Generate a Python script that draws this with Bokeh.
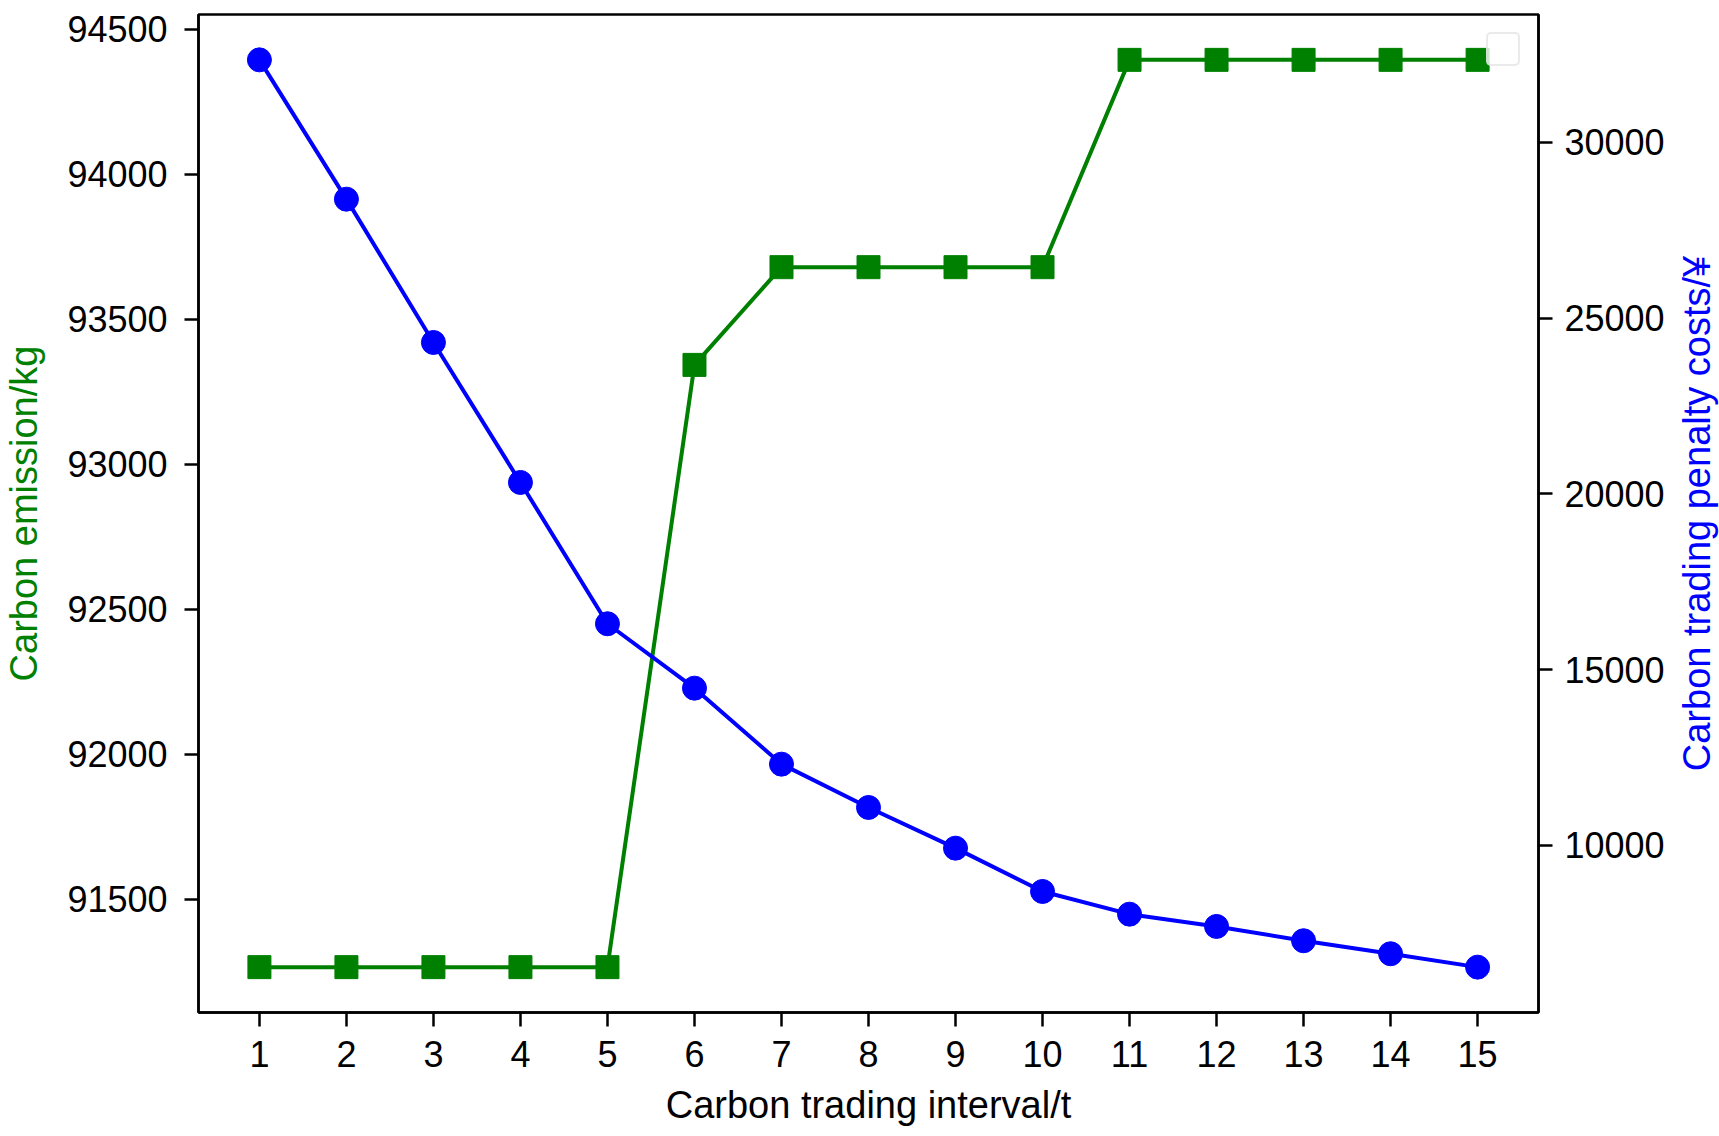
import math
import numpy as np
from bokeh.plotting import figure
from bokeh.layouts import row
from bokeh.core.properties import value
from bokeh.models import (LinearAxis, Range1d, FixedTicker, Legend, LegendItem,
                          NumeralTickFormatter)
from bokeh.embed import file_html
from bokeh.resources import INLINE

# ---- data ----
intervals = list(range(1, 16))
emission = [91266, 91266, 91266, 91266, 91266, 93343, 93680, 93680, 93680, 93680,
            94395, 94395, 94395, 94395, 94395]
penalty = [32350, 28387, 24310, 20327, 16307, 14475, 12313, 11081, 9923, 8691,
           8045, 7696, 7289, 6919, 6538]
x_ticks = list(range(1, 16))
left_ticks = [91500, 92000, 92500, 93000, 93500, 94000, 94500]
right_ticks = [10000, 15000, 20000, 25000, 30000]

x_label = "Carbon trading interval/t"
left_label = "Carbon emission/kg"
right_label = "Carbon trading penalty costs/\u00a5"

GREEN = "#008000"
BLUE = "#0000ff"
FONT = "Liberation Sans"
TICK_FS = "36px"
LAB_FS = "38px"

W, H = 1719, 1136
SIDE_W = 43                      # strip holding the right-hand axis title
MAIN_W = W - SIDE_W
B_LEFT, B_TOP, B_RIGHT, B_BOTTOM = 198, 14, MAIN_W - 1538, 124


def padded(vals, frac=0.05):
    lo, hi = float(np.min(vals)), float(np.max(vals))
    r = hi - lo
    return lo - frac * r, hi + frac * r


xl, xh = padded(intervals)
ll, lh = padded(emission)
rl, rh = padded(penalty)

p = figure(width=MAIN_W, height=H, output_backend="svg", toolbar_location=None,
           x_range=Range1d(xl, xh), y_range=Range1d(ll, lh),
           min_border_left=B_LEFT, min_border_top=B_TOP,
           min_border_right=B_RIGHT, min_border_bottom=B_BOTTOM,
           background_fill_color="white", border_fill_color="white")
p.extra_y_ranges = {"pen": Range1d(rl, rh)}

p.xgrid.visible = False
p.ygrid.visible = False
p.outline_line_color = "black"
p.outline_line_width = 2.5
p.outline_line_alpha = 1.0


def style_axis(ax):
    ax.axis_line_width = 2.5
    ax.axis_line_color = "black"
    ax.major_tick_line_width = 2.5
    ax.major_tick_line_color = "black"
    ax.major_tick_out = 14
    ax.major_tick_in = 0
    ax.minor_tick_line_color = None
    ax.major_label_text_font = FONT
    ax.major_label_text_font_size = TICK_FS
    ax.major_label_text_color = "black"
    ax.axis_label_text_font = FONT
    ax.axis_label_text_font_size = LAB_FS
    ax.axis_label_text_font_style = "normal"


xa = p.xaxis[0]
style_axis(xa)
xa.ticker = FixedTicker(ticks=x_ticks)
xa.major_label_standoff = 14
xa.axis_label = x_label
xa.axis_label_text_color = "black"
xa.axis_label_standoff = 14

ya = p.yaxis[0]
style_axis(ya)
ya.ticker = FixedTicker(ticks=left_ticks)
ya.formatter = NumeralTickFormatter(format="0")
ya.major_label_standoff = 17
ya.axis_label = left_label
ya.axis_label_text_color = GREEN
ya.axis_label_standoff = 19

ra = LinearAxis(y_range_name="pen")
style_axis(ra)
ra.ticker = FixedTicker(ticks=right_ticks)
ra.formatter = NumeralTickFormatter(format="0")
ra.major_label_standoff = 12
p.add_layout(ra, "right")

# empty legend frame as in the reference
dummy = p.scatter(x=[], y=[], marker="square", fill_alpha=0, line_alpha=0)
leg = Legend(items=[LegendItem(label=" ", renderers=[dummy])], location="top_right",
             padding=10, spacing=0, margin=18, glyph_width=10, glyph_height=10,
             label_standoff=0, label_width=0, label_height=10,
             label_text_font_size="1px", border_line_color="#d6d6d6",
             border_line_width=2, background_fill_color="white",
             background_fill_alpha=0.8)
if "border_radius" in Legend.properties():
    leg.border_radius = 5
p.add_layout(leg)

# green series (left axis)
p.line(intervals, emission, line_color=GREEN, line_width=4)
p.scatter(intervals, emission, marker="square", size=23, fill_color=GREEN,
          line_color=GREEN)

# blue series (right axis)
p.line(intervals, penalty, line_color=BLUE, line_width=4, y_range_name="pen")
p.scatter(intervals, penalty, marker="circle", size=24, fill_color=BLUE,
          line_color=BLUE, y_range_name="pen")

# narrow strip to the right carrying the right-axis title (reads bottom-to-top)
s = figure(width=SIDE_W, height=H, output_backend="svg", toolbar_location=None,
           x_range=Range1d(0, SIDE_W), y_range=Range1d(rl, rh),
           x_axis_type=None, y_axis_type=None,
           min_border_left=0, min_border_right=0, min_border_top=B_TOP,
           min_border_bottom=B_BOTTOM, background_fill_color="white",
           border_fill_color="white")
s.outline_line_color = None
s.xgrid.visible = False
s.ygrid.visible = False
mid_x = SIDE_W - 23
s.text(x=[mid_x], y=[(rl + rh) / 2], text=[right_label], angle=math.pi / 2,
       text_align="center", text_baseline="middle", text_color=BLUE,
       text_font=value(FONT), text_font_size=LAB_FS)

layout = row(p, s, spacing=0)
open("out.html", "w").write(file_html(layout, INLINE))
